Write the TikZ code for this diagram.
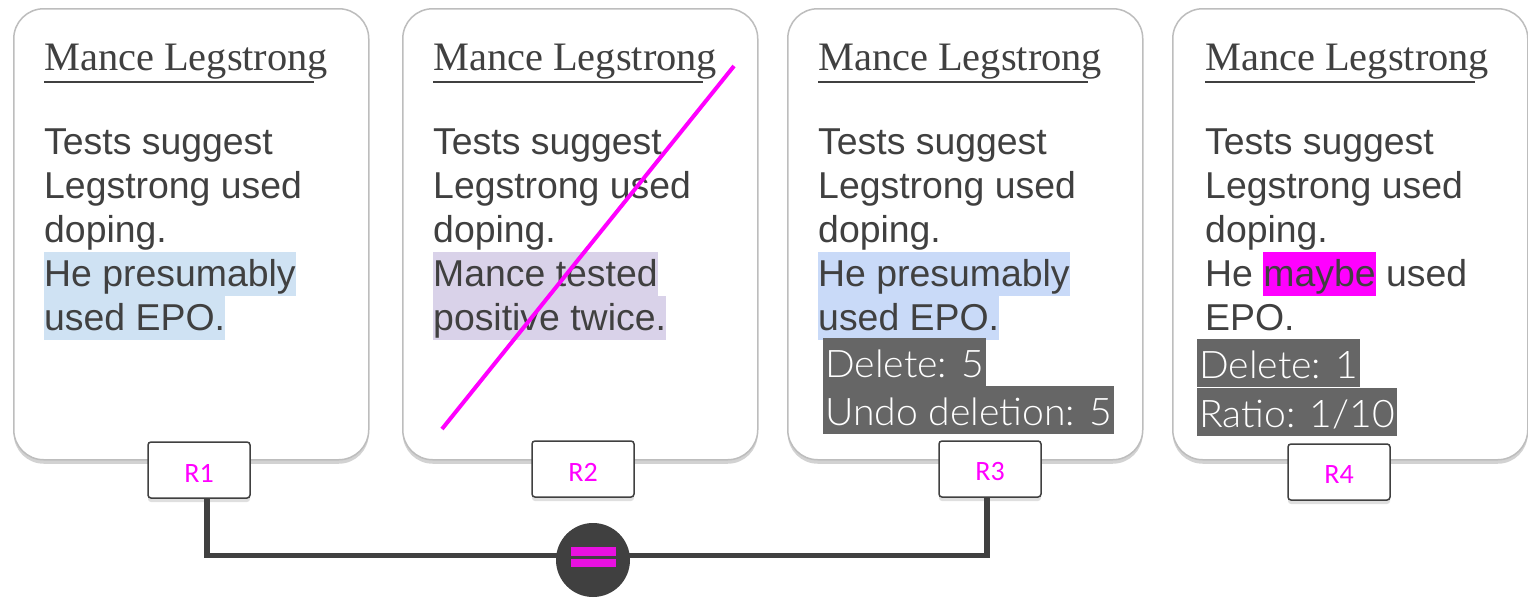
\documentclass[tikz,border=0pt]{standalone}
\usepackage{fontspec}
\setmainfont{Liberation Sans}
\newfontfamily\titlefont{Liberation Serif}
\newfontfamily\statfont{Lato Light}[FakeStretch=1.03]
\newfontfamily\labfont{Carlito}
\usetikzlibrary{shadows,calc}
\definecolor{txt}{HTML}{404040}
\definecolor{mag}{HTML}{FF00FF}
\definecolor{eqmag}{HTML}{E810E0}
\definecolor{hlblue}{HTML}{CFE2F3}
\definecolor{hlbluetwo}{HTML}{C9DAF8}
\definecolor{hlpurple}{HTML}{D9D2E9}
\definecolor{statbg}{HTML}{666666}
\definecolor{cardline}{HTML}{BDBDBD}
\newcommand\hlbox[2]{{\setlength\fboxsep{0pt}\colorbox{#1}{\rule[-10pt]{0pt}{44pt}#2}}}
\tikzset{
  card/.style={draw=cardline, line width=1.5pt, fill=white, rounded corners=30pt,
    minimum width=355pt, minimum height=451pt, anchor=north west, inner sep=0pt,
    drop shadow={shadow xshift=0pt, shadow yshift=-4pt, opacity=0.35}},
  titletext/.style={anchor=base west, inner sep=0pt, text=txt, font=\titlefont\fontsize{40.4}{40}\selectfont},
  uline/.style={draw=txt, line width=1.5pt},
  body/.style={anchor=base west, inner sep=0pt, text=txt, font=\fontsize{37.4}{44}\selectfont},
  stat/.style={anchor=base west, fill=statbg, text=white, inner xsep=2pt, inner ysep=0pt,
    text height=39pt, text depth=9pt, font=\statfont\fontsize{38}{38}\selectfont},
  rbox/.style={draw=txt, line width=1.5pt, fill=white, rounded corners=3pt,
    minimum width=102pt, minimum height=56pt, text=mag, inner sep=0pt,
    font=\labfont\fontsize{28}{28}\selectfont,
    drop shadow={shadow xshift=0pt, shadow yshift=-4pt, opacity=0.25}},
  rlabel/.style={text=mag, inner sep=0pt, font=\labfont\fontsize{28}{28}\selectfont},
  conn/.style={draw=txt, line width=5.5pt},
  strike/.style={draw=mag, line width=4pt},
}
\begin{document}
\begin{tikzpicture}[x=1pt, y=-1pt]
\useasboundingbox (0,0) rectangle (1528,597);
\fill[white] (0,0) rectangle (1528,597);

% cards
\node[card] (card1) at (13,8) {};
\node[card] (card2) at (402,8) {};
\node[card] (card3) at (787,8) {};
\node[card] (card4) at (1172,8) {};

% titles
\foreach \n/\x in {1/44, 2/433, 3/818, 4/1205}{
  \node[titletext] (t\n) at (\x,70) {Mance Legstrong};
  \draw[uline] ([yshift=-12pt]t\n.base west) -- ++(270,0);
}

% card 1
\node[body] (a1) at (44,154) {Tests suggest};
\node[body] (a2) at (44,198) {Legstrong used};
\node[body] (a3) at (44,242) {doping.};
\node[body] (a4) at (44,286) {\hlbox{hlblue}{He presumably}};
\node[body] (a5) at (44,330) {\hlbox{hlblue}{used EPO.}};

% card 2
\node[body] (b1) at (433,154) {Tests suggest};
\node[body] (b2) at (433,198) {Legstrong used};
\node[body] (b3) at (433,242) {doping.};
\node[body] (b4) at (433,286) {\hlbox{hlpurple}{Mance tested}};
\node[body] (b5) at (433,330) {\hlbox{hlpurple}{positive twice.}};
\coordinate (sA) at (734,66);
\coordinate (sB) at (442,429);
\draw[strike] (sA) -- (sB);

% card 3
\node[body] (c1) at (818,154) {Tests suggest};
\node[body] (c2) at (818,198) {Legstrong used};
\node[body] (c3) at (818,242) {doping.};
\node[body] (c4) at (818,286) {\hlbox{hlbluetwo}{He presumably}};
\node[body] (c5) at (818,330) {\hlbox{hlbluetwo}{used EPO.}};
\node[stat] (c6) at (823,377) {Delete: 5};
\node[stat] (c7) at (823,425) {Undo deletion: 5};

% card 4
\node[body] (d1) at (1205,154) {Tests suggest};
\node[body] (d2) at (1205,198) {Legstrong used};
\node[body] (d3) at (1205,242) {doping.};
\node[body] (d4) at (1205,286) {He \hlbox{mag}{maybe} used};
\node[body] (d5) at (1205,330) {EPO.};
\node[stat] (d6) at (1197,378) {Delete: 1};
\node[stat] (d7) at (1197,427) {Ratio: 1/10};

% R boxes
\node[rbox] (R1) at (199,470) {};
\node[rbox] (R2) at (583,469) {};
\node[rbox] (R3) at (990,469) {};
\node[rbox] (R4) at (1339,472) {};
\foreach \r in {1,2,3,4}{
  \node[rlabel] (L\r) at ([yshift=-3pt]R\r.center) {R\r};
}

% connector
\coordinate (k1) at (207,555.5);
\coordinate (k3) at (987,555.5);
\draw[conn] (R1.south -| k1) -- (k1) -- (k3) -- (R3.south -| k3);

% equality circle
\node[circle, fill=txt, minimum size=74pt, inner sep=0pt] (eq) at (593,560) {};
\fill[eqmag] ([shift={(-22.5,-13)}]eq.center) rectangle ++(45,9);
\fill[eqmag] ([shift={(-22.5,-1)}]eq.center) rectangle ++(45,8);
\end{tikzpicture}
\end{document}
